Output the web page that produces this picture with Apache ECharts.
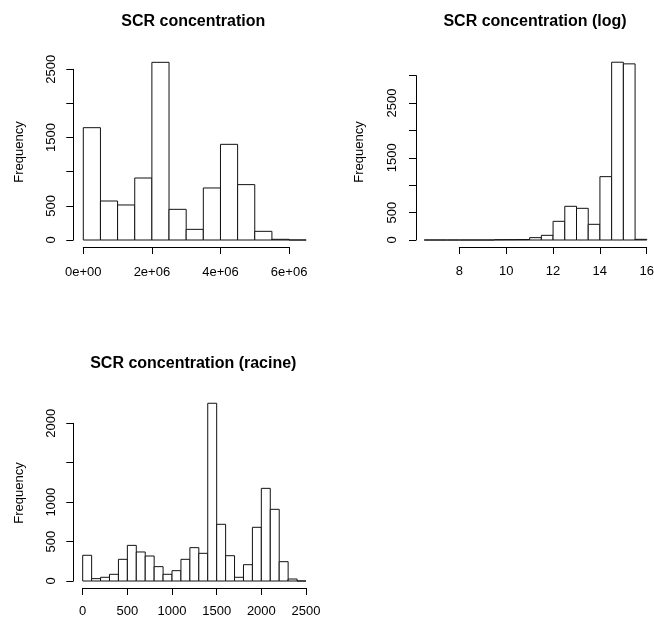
<!DOCTYPE html>
<html>
<head>
<meta charset="utf-8">
<script src="https://cdn.jsdelivr.net/npm/echarts@6/dist/echarts.min.js"></script>
<style>
  html, body { margin: 0; padding: 0; background: #fff; }
  #chart { width: 654px; height: 619px; }
</style>
</head>
<body>
<div id="chart"></div>
<script>
// Histogram 1: raw concentration, bins of 5e5
const breaksRaw = [0, 5e5, 1e6, 1.5e6, 2e6, 2.5e6, 3e6, 3.5e6, 4e6, 4.5e6, 5e6, 5.5e6, 6e6, 6.5e6];
const countsRaw = [1645, 571, 513, 908, 2602, 449, 156, 762, 1401, 811, 127, 10, 0];
const xTicksRaw = [0, 2e6, 4e6, 6e6];
const xLabelsRaw = ['0e+00', '2e+06', '4e+06', '6e+06'];
const yTicksRaw = [0, 500, 1000, 1500, 2000, 2500];
const yLabelsRaw = ['0', '500', '', '1500', '', '2500'];

// Histogram 2: log concentration, bins of 0.5
const breaksLog = [6.5, 7, 7.5, 8, 8.5, 9, 9.5, 10, 10.5, 11, 11.5, 12, 12.5, 13, 13.5, 14, 14.5, 15, 15.5, 16];
const countsLog = [0, 0, 0, 0, 0, 0, 6, 7, 8, 43, 85, 341, 615, 578, 286, 1156, 3244, 3214, 12];
const xTicksLog = [8, 10, 12, 14, 16];
const xLabelsLog = ['8', '10', '12', '14', '16'];
const yTicksLog = [0, 500, 1000, 1500, 2000, 2500, 3000];
const yLabelsLog = ['0', '500', '', '1500', '', '2500', ''];

// Histogram 3: square root of concentration, bins of 100
const breaksSqrt = [0, 100, 200, 300, 400, 500, 600, 700, 800, 900, 1000, 1100, 1200, 1300,
                    1400, 1500, 1600, 1700, 1800, 1900, 2000, 2100, 2200, 2300, 2400, 2500];
const countsSqrt = [326, 30, 47, 85, 275, 452, 368, 317, 182, 85, 131, 275, 423, 351,
                    2254, 719, 321, 47, 207, 681, 1175, 909, 245, 25, 0];
const xTicksSqrt = [0, 500, 1000, 1500, 2000, 2500];
const xLabelsSqrt = ['0', '500', '1000', '1500', '2000', '2500'];
const yTicksSqrt = [0, 500, 1000, 1500, 2000];
const yLabelsSqrt = ['0', '500', '1000', '', '2000'];

const titles = ['SCR concentration', 'SCR concentration (log)', 'SCR concentration (racine)'];
const yName = 'Frequency';

const FONT = '"Liberation Sans", Arial, Helvetica, sans-serif';
const INK = '#000';

function labelFor(ticks, labels) {
  return function (v) {
    for (let i = 0; i < ticks.length; i++) {
      if (Math.abs(ticks[i] - v) < 1e-6 * Math.max(1, Math.abs(v))) return labels[i];
    }
    return '';
  };
}

function grid(left, top, width, height) {
  return { left, top, width, height, containLabel: false, outerBoundsMode: 'none' };
}

function hiddenX(gi, min, max) {
  return { type: 'value', gridIndex: gi, min, max, show: false, splitLine: { show: false } };
}
function hiddenY(gi, min, max) {
  return { type: 'value', gridIndex: gi, min, max, show: false, splitLine: { show: false } };
}

function shownX(gi, min, max, interval, margin, ticks, labels) {
  return {
    type: 'value', gridIndex: gi, min, max, interval, offset: 7,
    axisLine: { show: true, onZero: false, lineStyle: { color: INK, width: 1 } },
    axisTick: { show: true, length: 7, lineStyle: { color: INK, width: 1 } },
    axisLabel: { show: true, margin, color: INK, fontSize: 13, fontFamily: FONT,
                 formatter: labelFor(ticks, labels), showMinLabel: true, showMaxLabel: true },
    splitLine: { show: false }
  };
}

function shownY(gi, max, interval, offset, margin, ticks, labels) {
  return {
    type: 'value', gridIndex: gi, min: 0, max, interval, offset,
    axisLine: { show: true, onZero: false, lineStyle: { color: INK, width: 1 } },
    axisTick: { show: true, length: 7, lineStyle: { color: INK, width: 1 } },
    axisLabel: { show: true, rotate: 90, margin, color: INK, fontSize: 13, fontFamily: FONT,
                 formatter: labelFor(ticks, labels), showMinLabel: true, showMaxLabel: true },
    splitLine: { show: false }
  };
}

function histSeries(axisIndex, breaks, counts) {
  const data = counts.map((c, i) => [breaks[i], breaks[i + 1], c]);
  return {
    type: 'custom',
    xAxisIndex: axisIndex,
    yAxisIndex: axisIndex,
    clip: false,
    silent: true,
    animation: false,
    encode: { x: [0, 1], y: 2 },
    data,
    renderItem(params, api) {
      const p0 = api.coord([api.value(0), 0]);
      const p1 = api.coord([api.value(1), api.value(2)]);
      return {
        type: 'rect',
        shape: { x: p0[0], y: p1[1], width: p1[0] - p0[0], height: p0[1] - p1[1] },
        style: { fill: '#fff', stroke: '#111', lineWidth: 1 }
      };
    }
  };
}

function textEl(str, x, y, size, bold, rotate) {
  return {
    type: 'text', x, y, rotation: rotate ? Math.PI / 2 : 0, silent: true,
    style: { text: str, fill: INK, fontSize: size, fontFamily: FONT,
             fontWeight: bold ? 'bold' : 'normal', align: 'center', verticalAlign: 'middle' }
  };
}

const option = {
  animation: false,
  backgroundColor: '#fff',
  grid: [
    grid(83.3, 69.3, 222.9, 170.7),   // 0: raw data
    grid(83.3, 69.3, 205.8, 170.7),   // 1: raw x axis (0..6e6)
    grid(424.2, 75.6, 222.6, 164.4),  // 2: log data
    grid(459.3, 75.6, 187.4, 164.4),  // 3: log x axis (8..16)
    grid(82.7, 423.3, 223.3, 157.7)   // 4: sqrt data and axes
  ],
  xAxis: [
    hiddenX(0, breaksRaw[0], breaksRaw[breaksRaw.length - 1]),
    shownX(1, 0, 6e6, 2e6, 19, xTicksRaw, xLabelsRaw),
    hiddenX(2, breaksLog[0], breaksLog[breaksLog.length - 1]),
    shownX(3, 8, 16, 2, 18, xTicksLog, xLabelsLog),
    shownX(4, 0, 2500, 500, 17, xTicksSqrt, xLabelsSqrt)
  ],
  yAxis: [
    shownY(0, 2500, 500, 10, 15, yTicksRaw, yLabelsRaw),
    hiddenY(1, 0, 2500),
    shownY(2, 3000, 500, 8.2, 17, yTicksLog, yLabelsLog),
    hiddenY(3, 0, 3000),
    shownY(4, 2000, 500, 9.4, 15, yTicksSqrt, yLabelsSqrt)
  ],
  series: [
    histSeries(0, breaksRaw, countsRaw),
    histSeries(2, breaksLog, countsLog),
    histSeries(4, breaksSqrt, countsSqrt)
  ],
  graphic: [
    textEl(titles[0], 193.3, 22, 16, true, false),
    textEl(titles[1], 535, 22, 16, true, false),
    textEl(titles[2], 193.3, 364, 16, true, false),
    textEl(yName, 19, 152, 13, false, true),
    textEl(yName, 359, 152, 13, false, true),
    textEl(yName, 19, 493, 13, false, true)
  ]
};

const chart = echarts.init(document.getElementById('chart'), null, { renderer: 'canvas' });
chart.setOption(option);
</script>
</body>
</html>
